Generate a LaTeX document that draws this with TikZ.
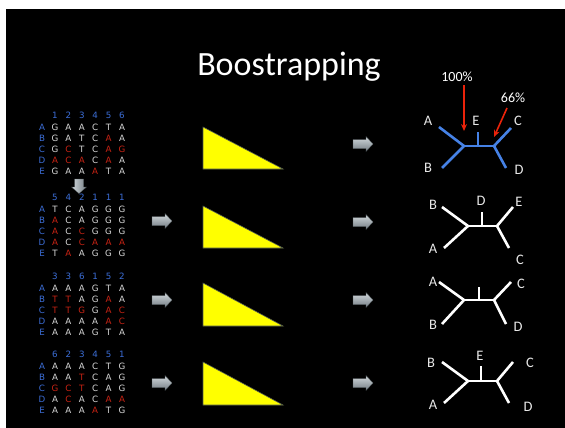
\documentclass[tikz,border=0pt]{standalone}
\usepackage{fontspec}
\setmainfont{Carlito}
\newfontfamily\seqfont{DejaVu Sans}
\usetikzlibrary{arrows.meta}

\definecolor{nt}{RGB}{215,215,215}
\definecolor{rd}{RGB}{200,35,20}
\definecolor{idx}{RGB}{60,110,215}
\definecolor{treeblue}{RGB}{70,130,230}
\definecolor{support}{RGB}{235,35,10}
\definecolor{tri}{RGB}{255,255,0}
\definecolor{triedge}{RGB}{80,90,80}
\definecolor{arrtop}{RGB}{210,216,220}
\definecolor{arrbot}{RGB}{115,125,132}
\definecolor{leaf}{RGB}{232,232,232}

\tikzset{
  base/.style={font=\seqfont\fontsize{8.7}{9}\selectfont, inner sep=0pt, anchor=center},
  idxlab/.style={base, text=idx},
  taxon/.style={font=\fontsize{14.5}{16}\selectfont, text=leaf, inner sep=0pt},
  pct/.style={font=\fontsize{14}{16}\selectfont, text=white, inner sep=0pt},
  branch/.style={line width=2.6pt},
  bluetree/.style={branch, draw=treeblue},
  whitetree/.style={branch, draw=white},
  wedge/.style={fill=tri, draw=triedge, line width=0.6pt},
  support arrow/.style={draw=support, line width=1.6pt, -{Stealth[length=7pt,width=6pt]}},
  blockarrow/.pic={
    \shade[top color=arrtop, bottom color=arrbot, draw=arrbot!70!black, line width=0.3pt]
      (-10,-4.5) -- (3,-4.5) -- (3,-7.5) -- (10,0) -- (3,7.5) -- (3,4.5) -- (-10,4.5) -- cycle;
  },
  downarrow/.pic={
    \shade[left color=arrtop, right color=arrbot, draw=arrbot!70!black, line width=0.3pt]
      (-4.5,-7) -- (-4.5,1) -- (-7.5,1) -- (0,7.5) -- (7.5,1) -- (4.5,1) -- (4.5,-7) -- cycle;
  },
}

% column indices of a resampled alignment
\newcommand\seqhead[3]{%
  \foreach \d [count=\i] in {#3}
    \node[idxlab] (#1-\i) at ({55+13.4*(\i-1)},#2) {\d};}
% one taxon row: id, y, taxon, list of base/colour
\newcommand\seqrow[4]{%
  \node[idxlab] (#1-t) at (42,#2) {#3};
  \foreach \c/\k [count=\i] in {#4}
    \node[base, text=\k] (#1-\i) at ({55+13.4*(\i-1)},#2) {\c};}

\begin{document}
\begin{tikzpicture}[x=1pt, y=-1pt]
\useasboundingbox (0,0) rectangle (565,428);
\fill[white] (0,0) rectangle (565,428);
\fill[black] (6,9) rectangle (565,428);

% title
\node[font=\fontsize{34}{38}\selectfont, text=white, inner sep=0pt, anchor=base] (title) at (289,76) {Boostrapping};

% ---------- original alignment ----------
\seqhead{h1}{115}{1,2,3,4,5,6}
\seqrow{a1}{127}{A}{G/nt,A/nt,A/nt,C/nt,T/nt,A/nt}
\seqrow{b1}{138}{B}{G/nt,A/nt,T/nt,C/nt,A/rd,A/nt}
\seqrow{c1}{149}{C}{G/nt,C/rd,T/nt,C/nt,A/rd,G/rd}
\seqrow{d1}{160}{D}{A/rd,C/rd,A/rd,C/nt,A/rd,A/nt}
\seqrow{e1}{171}{E}{G/nt,A/nt,A/nt,A/rd,T/nt,A/nt}

% ---------- pseudo-replicate 1 ----------
\seqhead{h2}{197}{5,4,2,1,1,1}
\seqrow{a2}{209}{A}{T/nt,C/nt,A/nt,G/nt,G/nt,G/nt}
\seqrow{b2}{220}{B}{A/rd,C/nt,A/nt,G/nt,G/nt,G/nt}
\seqrow{c2}{231}{C}{A/rd,C/nt,C/rd,G/nt,G/nt,G/nt}
\seqrow{d2}{242}{D}{A/rd,C/nt,C/rd,A/rd,A/rd,A/rd}
\seqrow{e2}{253}{E}{T/nt,A/rd,A/nt,G/nt,G/nt,G/nt}

% ---------- pseudo-replicate 2 ----------
\seqhead{h3}{276}{3,3,6,1,5,2}
\seqrow{a3}{288}{A}{A/nt,A/nt,A/nt,G/nt,T/nt,A/nt}
\seqrow{b3}{299}{B}{T/rd,T/rd,A/nt,G/nt,A/rd,A/nt}
\seqrow{c3}{310}{C}{T/rd,T/rd,G/rd,G/nt,A/rd,C/rd}
\seqrow{d3}{321}{D}{A/nt,A/nt,A/nt,A/nt,A/rd,C/rd}
\seqrow{e3}{332}{E}{A/nt,A/nt,A/nt,G/nt,T/nt,A/nt}

% ---------- pseudo-replicate 3 ----------
\seqhead{h4}{354}{6,2,3,4,5,1}
\seqrow{a4}{366}{A}{A/nt,A/nt,A/nt,C/nt,T/nt,G/nt}
\seqrow{b4}{377}{B}{A/nt,A/nt,T/rd,C/nt,A/nt,G/nt}
\seqrow{c4}{388}{C}{G/rd,C/rd,T/rd,C/nt,A/nt,G/nt}
\seqrow{d4}{399}{D}{A/nt,C/rd,A/nt,C/nt,A/rd,A/rd}
\seqrow{e4}{410}{E}{A/nt,A/nt,A/nt,A/rd,T/nt,G/nt}

% resampling arrow
\pic at (79,186) {downarrow};

% ---------- tree-building wedges ----------
\filldraw[wedge] (203,127) -- (203,169) -- (283,169) -- cycle;
\filldraw[wedge] (203,206) -- (203,248) -- (283,248) -- cycle;
\filldraw[wedge] (203,283) -- (203,326) -- (283,326) -- cycle;
\filldraw[wedge] (203,362) -- (203,405) -- (283,405) -- cycle;

% ---------- gray arrows ----------
\pic at (162,221) {blockarrow};
\pic at (162,300) {blockarrow};
\pic at (162,383) {blockarrow};
\pic at (363,144) {blockarrow};
\pic at (363,222) {blockarrow};
\pic at (363,300) {blockarrow};
\pic at (363,383) {blockarrow};

% ---------- tree 1 (original data) ----------
\coordinate (t1L) at (464,146);
\coordinate (t1R) at (494,146);
\coordinate (t1a) at (439,127);
\coordinate (t1b) at (442,168);
\coordinate (t1c) at (511,128);
\coordinate (t1d) at (506,168);
\coordinate (t1e) at (478,132);
\coordinate (t1eb) at (478,146);
\draw[bluetree] (t1a) -- (t1L) -- (t1b);
\draw[bluetree] (t1c) -- (t1R) -- (t1d);
\draw[bluetree] (t1L) -- (t1R);
\draw[bluetree] (t1e) -- (t1eb);
\node[taxon] (t1A) at (428,121) {A};
\node[taxon] (t1B) at (428,168) {B};
\node[taxon] (t1E) at (476,121) {E};
\node[taxon] (t1C) at (518,121) {C};
\node[taxon] (t1D) at (519,170) {D};
\node[pct] (p100) at (457,77) {100\%};
\node[pct] (p66) at (513,98) {66\%};
\coordinate (p100tip) at (464,131);
\coordinate (p66tip) at (494,137);
\draw[support arrow] (p100.south -| p100tip) ++(0,3) -- (p100tip);
\draw[support arrow] (507,108) -- (p66tip);

% ---------- tree 2 ----------
\coordinate (t2L) at (468,226);
\coordinate (t2R) at (497,226);
\draw[whitetree] (442,207) -- (t2L) -- (444,248);
\draw[whitetree] (513,207) -- (t2R) -- (509,248);
\draw[whitetree] (t2L) -- (t2R);
\draw[whitetree] (482,212) -- (482,226);
\node[taxon] (t2B) at (433,205) {B};
\node[taxon] (t2A) at (433,249) {A};
\node[taxon] (t2D) at (481,201) {D};
\node[taxon] (t2E) at (519,202) {E};
\node[taxon] (t2C) at (520,260) {C};

% ---------- tree 3 ----------
\coordinate (t3L) at (464,300);
\coordinate (t3R) at (494,300);
\draw[whitetree] (439,282) -- (t3L) -- (442,324);
\draw[whitetree] (511,282) -- (t3R) -- (506,324);
\draw[whitetree] (t3L) -- (t3R);
\draw[whitetree] (479,287) -- (479,300);
\node[taxon] (t3A) at (433,282) {A};
\node[taxon] (t3B) at (433,325) {B};
\node[taxon] (t3C) at (521,284) {C};
\node[taxon] (t3D) at (518,327) {D};

% ---------- tree 4 ----------
\coordinate (t4L) at (468,381);
\coordinate (t4R) at (497,381);
\draw[whitetree] (442,362) -- (t4L) -- (444,403);
\draw[whitetree] (513,362) -- (t4R) -- (509,403);
\draw[whitetree] (t4L) -- (t4R);
\draw[whitetree] (481,366) -- (481,381);
\node[taxon] (t4B) at (431,363) {B};
\node[taxon] (t4E) at (480,356) {E};
\node[taxon] (t4C) at (530,363) {C};
\node[taxon] (t4D) at (528,407) {D};
\node[taxon] (t4A) at (433,405) {A};
\end{tikzpicture}
\end{document}
